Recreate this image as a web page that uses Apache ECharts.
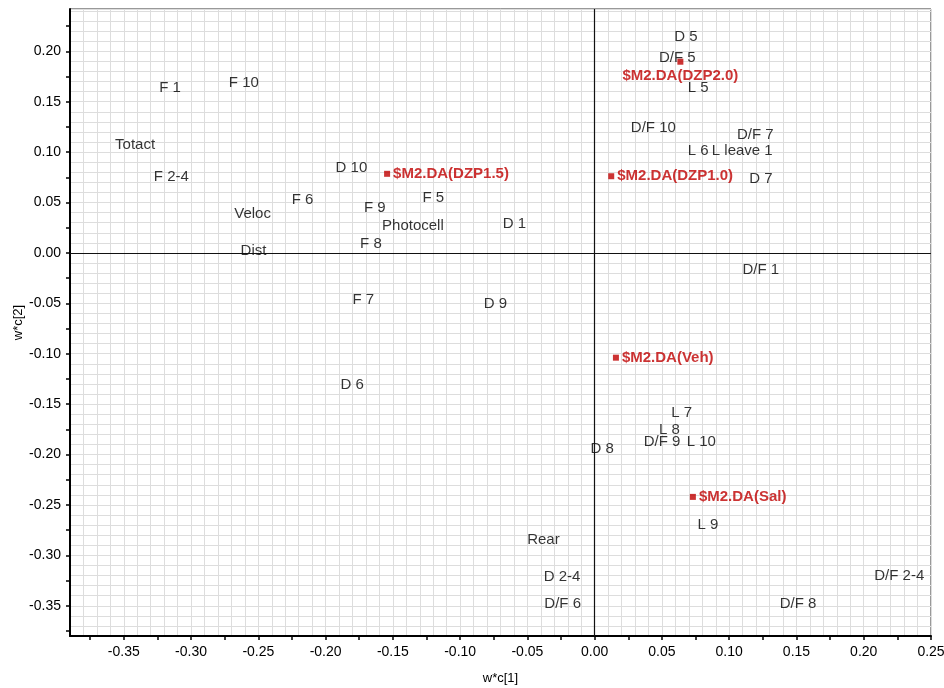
<!DOCTYPE html>
<html>
<head>
<meta charset="utf-8">
<title>Loading plot</title>
<script src="https://cdn.jsdelivr.net/npm/echarts@6/dist/echarts.min.js"></script>
<style>
  html, body { margin: 0; padding: 0; background: #fff; }
  #main { width: 944px; height: 688px; }
</style>
</head>
<body>
<div id="main"></div>
<script>
// variables (black labels only)
const varNames = ['F 1', 'F 10', 'Totact', 'F 2-4', 'F 6', 'Veloc', 'Dist',
  'D 10', 'F 5', 'F 9', 'Photocell', 'D 1', 'F 8',
  'D 5', 'D/F 5', 'L 5', 'D/F 10', 'D/F 7', 'L 6', 'L leave 1', 'D 7',
  'F 7', 'D 9', 'D 6', 'D 8', 'D/F 1', 'L 7', 'L 8', 'D/F 9', 'L 10',
  'L 9', 'Rear', 'D 2-4', 'D/F 6', 'D/F 8', 'D/F 2-4']
const varX = [-0.3156, -0.2608, -0.3416, -0.3147, -0.2172, -0.2543, -0.2536,
  -0.1808, -0.1200, -0.1635, -0.1351, -0.0597, -0.1663,
  0.0679, 0.0614, 0.0769, 0.0436, 0.1194, 0.0770, 0.1097, 0.1235,
  -0.1720, -0.0738, -0.1803, 0.0055, 0.1235, 0.0646, 0.0555, 0.0501, 0.0793,
  0.0841, -0.0381, -0.0242, -0.0238, 0.1512, 0.2264]
const varY = [0.1635, 0.1687, 0.1075, 0.0756, 0.0529, 0.0387, 0.0025,
  0.0848, 0.0548, 0.0452, 0.0264, 0.0289, 0.0087,
  0.2144, 0.1938, 0.1637, 0.1238, 0.1173, 0.1008, 0.1016, 0.0739,
  -0.0466, -0.0509, -0.1306, -0.1948, -0.0170, -0.1591, -0.1751, -0.1879, -0.1879,
  -0.2700, -0.2845, -0.3213, -0.3483, -0.3483, -0.3199]

// class (Y) variables, red
const classNames = ['$M2.DA(DZP1.5)', '$M2.DA(DZP2.0)', '$M2.DA(DZP1.0)', '$M2.DA(Veh)', '$M2.DA(Sal)']
const classX = [-0.1543, 0.0637, 0.0123, 0.0158, 0.0730]
const classY = [0.0785, 0.1897, 0.0761, -0.1039, -0.2420]

// tick labels
const xTickLabels = [-0.35, -0.30, -0.25, -0.20, -0.15, -0.10, -0.05, 0.00, 0.05, 0.10, 0.15, 0.20, 0.25]
const yTickLabels = [-0.35, -0.30, -0.25, -0.20, -0.15, -0.10, -0.05, 0.00, 0.05, 0.10, 0.15, 0.20]

const FONT = '"Liberation Sans", Arial, sans-serif'
const RED = '#bf0000'

// ticks every 0.025
function quarterTicks(from, to) {
  let out = []
  for (let k = Math.ceil(from / 0.025 - 1e-9); k * 0.025 <= to + 1e-9; k++) {
    out.push(+(k * 0.025).toFixed(3))
  }
  return out
}

const xMin = -0.39, xMax = 0.25, yMin = -0.38, yMax = 0.242

function gridAxis(min, max) {
  return {
    type: 'value', min: min, max: max, interval: 0.01,
    axisLine: { show: false, onZero: false },
    axisTick: { show: false },
    axisLabel: { show: false },
    splitLine: { show: true, lineStyle: { color: '#dddddd', width: 1 } }
  }
}

function labelAxis(min, max, labels, name, nameGap, pos) {
  return {
    type: 'value', min: min, max: max, position: pos,
    name: name, nameLocation: 'middle', nameGap: nameGap, nameMoveOverlap: false,
    nameTextStyle: { color: '#000', fontSize: 13, fontFamily: FONT },
    axisLine: { show: true, onZero: false, lineStyle: { color: '#000', width: 2 } },
    axisTick: { show: true, customValues: quarterTicks(min, max), length: 4, inside: false,
      lineStyle: { color: '#000', width: 1.5 } },
    axisLabel: { show: true, customValues: labels, formatter: v => v.toFixed(2),
      color: '#000', fontSize: 14, fontFamily: FONT, margin: 9 },
    splitLine: { show: false }
  }
}

const chart = echarts.init(document.getElementById('main'))

let varData = varNames.map((n, i) => [varX[i], varY[i], n])
let classData = classNames.map((n, i) => {
  let item = { value: [classX[i], classY[i], n] }
  if (n === '$M2.DA(DZP2.0)') item.label = { position: 'bottom', distance: 4 }
  return item
})

chart.setOption({
  animation: false,
  backgroundColor: '#fff',
  grid: { left: 70, right: 13, top: 9, bottom: 52, show: true,
    outerBoundsMode: 'none', containLabel: false,
    borderColor: '#333', borderWidth: 1, backgroundColor: 'transparent' },
  xAxis: [
    gridAxis(xMin, xMax),
    labelAxis(xMin, xMax, xTickLabels, 'w*c[1]', 36, 'bottom')
  ],
  yAxis: [
    gridAxis(yMin, yMax),
    labelAxis(yMin, yMax, yTickLabels, 'w*c[2]', 45, 'left')
  ],
  series: [
    {
      name: 'variables',
      type: 'scatter',
      xAxisIndex: 0, yAxisIndex: 0,
      data: varData,
      symbolSize: 1,
      itemStyle: { color: 'rgba(0,0,0,0)' },
      label: {
        show: true, position: 'inside',
        formatter: p => p.data[2],
        color: '#000', fontSize: 15, fontFamily: FONT
      },
      markLine: {
        silent: true, symbol: 'none',
        label: { show: false },
        lineStyle: { color: '#111', width: 1.2, type: 'solid' },
        data: [{ xAxis: 0 }, { yAxis: 0 }]
      },
      z: 3
    },
    {
      name: 'classes',
      type: 'scatter',
      xAxisIndex: 0, yAxisIndex: 0,
      data: classData,
      symbol: 'rect',
      symbolSize: 6,
      itemStyle: { color: RED },
      label: {
        show: true, position: 'right', distance: 3,
        formatter: p => p.data.value[2],
        color: RED, fontSize: 15, fontWeight: 'bold', fontFamily: FONT
      },
      z: 4
    }
  ]
})
</script>
</body>
</html>
